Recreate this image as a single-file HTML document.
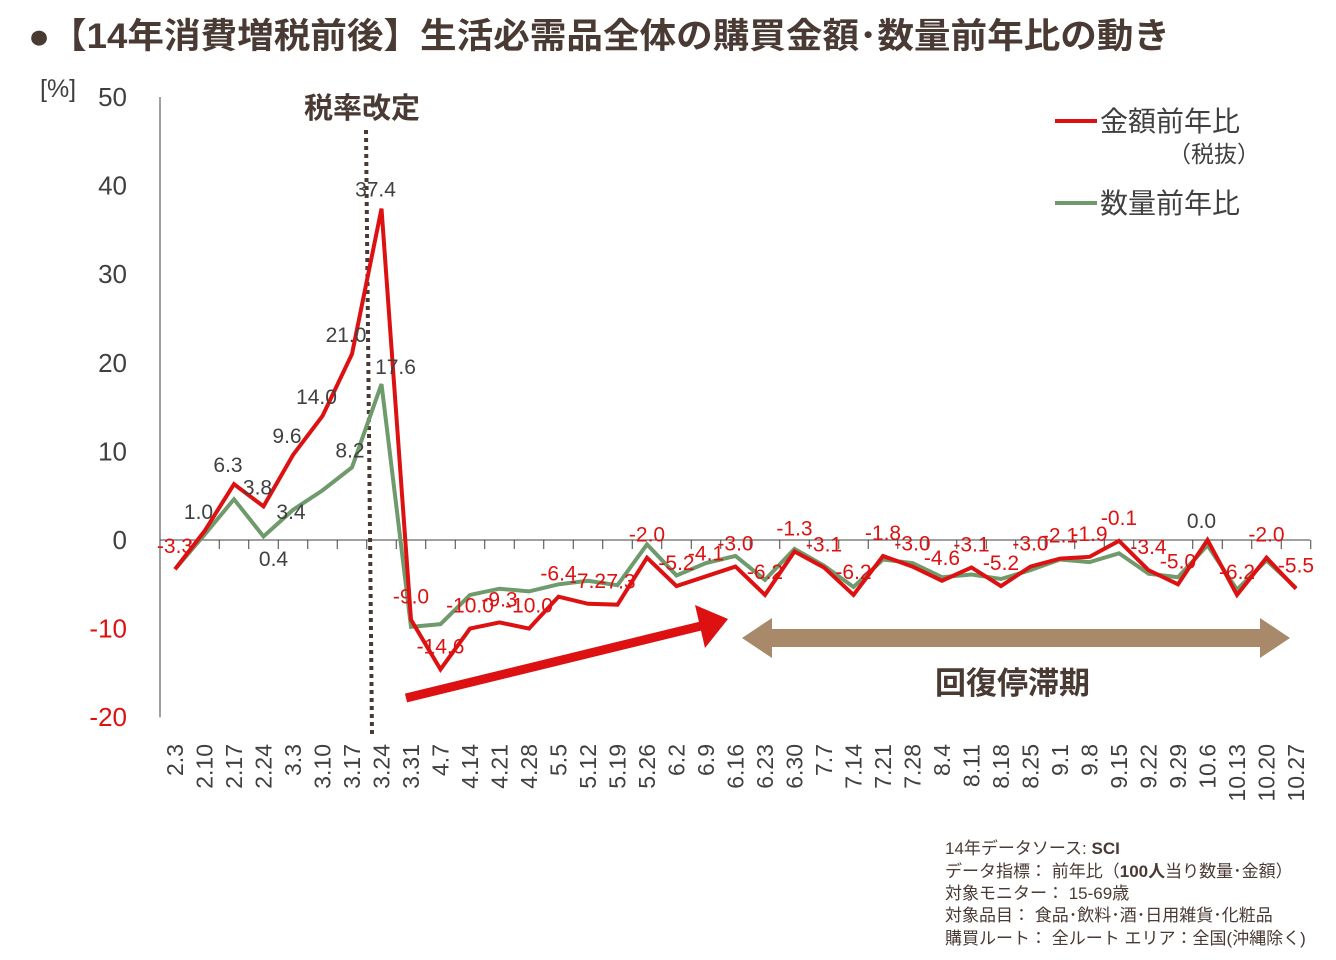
<!DOCTYPE html>
<html><head><meta charset="utf-8">
<style>
body{margin:0;background:#fff;width:1336px;height:960px;overflow:hidden;font-family:"Liberation Sans","Noto Sans CJK JP",sans-serif;}
svg{position:absolute;left:0;top:0}
</style></head>
<body>
<svg id="chart" width="1336" height="960" viewBox="0 0 1336 960" font-family="'Liberation Sans','Noto Sans CJK JP',sans-serif">
<text x="28" y="48" font-size="35" font-weight="bold" fill="#4a3a34" textLength="1142" lengthAdjust="spacingAndGlyphs">●【14年消費増税前後】生活必需品全体の購買金額･数量前年比の動き</text>
<text x="40" y="97" font-size="25" fill="#404040">[%]</text>
<text x="304" y="118" font-size="29" font-weight="bold" fill="#4a3a34">税率改定</text>
<g>
<line x1="1055" y1="121" x2="1097" y2="121" stroke="#dd1111" stroke-width="4"/>
<text x="1100" y="131" font-size="28" fill="#404040">金額前年比</text>
<text x="1168" y="162" font-size="23" fill="#404040">（税抜）</text>
<line x1="1055" y1="203" x2="1097" y2="203" stroke="#6f9a6c" stroke-width="4"/>
<text x="1100" y="213" font-size="28" fill="#404040">数量前年比</text>
</g>
<g id="plot"></g>
<g>
<line x1="406" y1="698" x2="705" y2="625" stroke="#dd1111" stroke-width="9"/>
<polygon points="728,619 695,605 705,648" fill="#dd1111"/>
</g>
<g>
<polygon points="742,638 772,618 772,629 1260,629 1260,618 1290,638 1260,658 1260,647 772,647 772,658" fill="#a8896a"/>
</g>
<text x="935" y="694" font-size="31" font-weight="bold" fill="#4a3a34">回復停滞期</text>
<g font-size="17" fill="#4a3a34">
<text x="945" y="854">14年データソース: <tspan font-weight="bold">SCI</tspan></text>
<text x="945" y="877">データ指標： 前年比（<tspan font-weight="bold">100人</tspan>当り数量･金額）</text>
<text x="945" y="899">対象モニター： 15-69歳</text>
<text x="945" y="921">対象品目： 食品･飲料･酒･日用雑貨･化粧品</text>
<text x="945" y="944">購買ルート： 全ルート エリア：全国(沖縄除く)</text>
</g>
</svg>
<script>
const categories=["2.3","2.10","2.17","2.24","3.3","3.10","3.17","3.24","3.31","4.7","4.14","4.21","4.28","5.5","5.12","5.19","5.26","6.2","6.9","6.16","6.23","6.30","7.7","7.14","7.21","7.28","8.4","8.11","8.18","8.25","9.1","9.8","9.15","9.22","9.29","10.6","10.13","10.20","10.27"];
const amountValues=[-3.3,1.0,6.3,3.8,9.6,14.0,21.0,37.4,-9.0,-14.6,-10.0,-9.3,-10.0,-6.4,-7.2,-7.3,-2.0,-5.2,-4.1,-3.0,-6.2,-1.3,-3.1,-6.2,-1.8,-3.0,-4.6,-3.1,-5.2,-3.0,-2.1,-1.9,-0.1,-3.4,-5.0,-0.0,-6.2,-2.0,-5.5];
const quantityValues=[-3.3,0.6,4.6,0.4,3.4,5.6,8.2,17.6,-9.8,-9.5,-6.2,-5.5,-5.8,-5.0,-4.6,-5.1,-0.5,-4.0,-2.6,-1.8,-4.5,-1.0,-2.9,-5.3,-2.2,-2.6,-4.2,-3.9,-4.4,-3.4,-2.2,-2.5,-1.5,-3.8,-4.2,-0.6,-5.6,-2.3,-5.4];
const yTicks=[50,40,30,20,10,0,-10,-20];
const NS="http://www.w3.org/2000/svg";
const g=document.getElementById('plot');
const x0=175,dx=(1296-175)/38;
function xs(i){return x0+i*dx;}
function ys(v){return 540-v*8.86;}
function el(t,a){const e=document.createElementNS(NS,t);for(const k in a)e.setAttribute(k,a[k]);g.appendChild(e);return e;}
let ax=el('line',{x1:160,y1:ys(50),x2:160,y2:ys(-20),stroke:'#404040','stroke-width':1});


let xa=el('line',{x1:160,y1:ys(0),x2:1310,y2:ys(0),stroke:'#404040','stroke-width':1});


yTicks.forEach(v=>{
 const t=el('text',{x:127,y:ys(v)+9,'font-size':26,'text-anchor':'end',fill:v<0?'#dd1111':'#404040'});
 t.textContent=v;
 
 
});
categories.forEach((c,i)=>{
 el('line',{x1:xs(i)+dx/2,y1:ys(0),x2:xs(i)+dx/2,y2:ys(0)+9,stroke:'#404040','stroke-width':1});
 const t=el('text',{x:0,y:0,'font-size':23,'text-anchor':'end',fill:'#404040',transform:`translate(${xs(i)+8},744) rotate(-90)`});
 t.textContent=c;
 
 
});
const dl=el('line',{x1:366,y1:130,x2:372,y2:735,stroke:'#4a3a34','stroke-width':4,'stroke-dasharray':'4 4'});


function series(vals,color,name){
 const p=el('polyline',{points:vals.map((v,i)=>xs(i)+','+ys(v)).join(' '),fill:'none',stroke:color,'stroke-width':4,'stroke-linejoin':'miter'});
 
 
}
series(quantityValues,'#6f9a6c','quantity-line');
series(amountValues,'#dd1111','amount-line');
amountValues.forEach((v,i)=>{
 const t=el('text',{x:xs(i)+(v>=0?-6:0),y:ys(v)-(v>=0?12:16),'font-size':21,'text-anchor':'middle',fill:v>=0?'#404040':'#dd1111'});
 t.textContent=v.toFixed(1);
 
 
});
[3,4,6,7].forEach(i=>{
 const v=quantityValues[i];
 const t=el('text',{x:xs(i)+(i==3?10:i==7?14:-2),y:i==3?566:i==4?519:ys(v)-10,'font-size':21,'text-anchor':'middle',fill:'#404040'});
 t.textContent=v.toFixed(1);
 
 
});
</script>
</body></html>
